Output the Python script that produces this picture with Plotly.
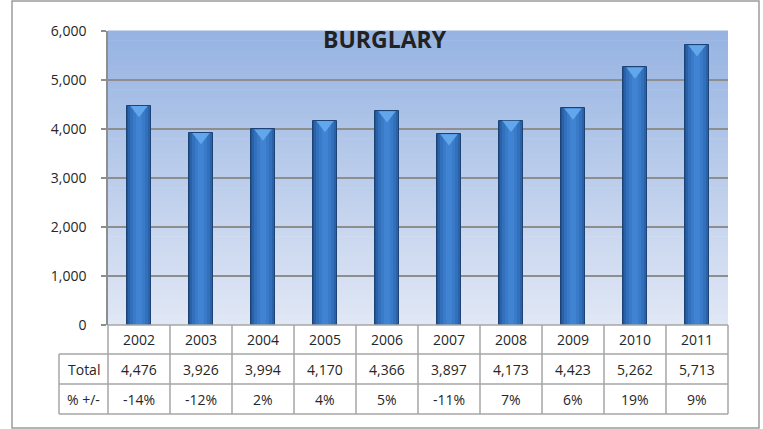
import plotly.graph_objects as go

# ---- data ----
years = ["2002", "2003", "2004", "2005", "2006", "2007", "2008", "2009", "2010", "2011"]
totals = [4476, 3926, 3994, 4170, 4366, 3897, 4173, 4423, 5262, 5713]
pct_change = ["-14%", "-12%", "2%", "4%", "5%", "-11%", "7%", "6%", "19%", "9%"]
y_ticks = [0, 1000, 2000, 3000, 4000, 5000, 6000]
row_labels = ["Total", "% +/-"]
title_text = "BURGLARY"

# ---- layout geometry (pixels) ----
W, H = 763, 429
L, R, T, B = 108, 35, 31, 104
PW, PH = W - L - R, H - T - B
FONT = "Open Sans"
TXT = "#262626"
GRID = "#8E8E8E"
TBL = "#A6A6A6"


def px(p):
    return (p - L) / PW


def py(p):
    return (H - B - p) / PH


xs = list(range(len(years)))
fig = go.Figure()

# gradient-shaded cylinder-like bars (overlayed narrower bars)
bar_layers = [(0.40, "#22538F"), (0.35, "#2A62A9"), (0.28, "#3270BC"), (0.19, "#397BC9"), (0.09, "#3F83D2")]
for i, (w, c) in enumerate(bar_layers):
    fig.add_trace(go.Bar(
        x=xs, y=totals, width=w,
        marker=dict(color=c, line=dict(color="#1D4274" if i == 0 else c, width=1 if i == 0 else 0)),
        hoverinfo="skip", showlegend=False,
    ))

# bevel highlight at top of each bar
unit_per_px = (y_ticks[-1] - y_ticks[0]) / PH
fig.add_trace(go.Scatter(
    x=xs, y=[v - 4 * unit_per_px for v in totals], mode="markers",
    marker=dict(symbol="triangle-down", size=15, color="#62A6EC", line=dict(width=0)),
    hoverinfo="skip", showlegend=False, cliponaxis=False,
))

shapes = []
# plot background gradient
N = 60
top_c = (150, 179, 226)
bot_c = (224, 231, 245)
for k in range(N):
    f = k / (N - 1)
    c = tuple(int(round(top_c[j] + (bot_c[j] - top_c[j]) * f)) for j in range(3))
    shapes.append(dict(type="rect", xref="paper", yref="paper", x0=0, x1=1,
                       y0=1 - (k + 1) / N, y1=1 - k / N + 0.002, layer="below",
                       fillcolor="rgb(%d,%d,%d)" % c, line=dict(width=0)))

# outer chart border
shapes.append(dict(type="rect", xref="paper", yref="paper", x0=px(12), x1=px(759),
                   y0=py(428), y1=py(1), line=dict(color="#9C9C9C", width=1.5), layer="above"))

# data table grid
row_y = [325, 354, 384, 414]
lab_x0 = 59
col_w = PW / len(years)
for i, yy in enumerate(row_y):
    x0 = L if i == 0 else lab_x0
    shapes.append(dict(type="line", xref="paper", yref="paper", x0=px(x0), x1=px(L + PW),
                       y0=py(yy), y1=py(yy), line=dict(color=TBL, width=1.5)))
for k in range(len(years) + 1):
    xx = L + k * col_w
    shapes.append(dict(type="line", xref="paper", yref="paper", x0=px(xx), x1=px(xx),
                       y0=py(row_y[0]), y1=py(row_y[-1]), line=dict(color=TBL, width=1.5)))
shapes.append(dict(type="line", xref="paper", yref="paper", x0=px(lab_x0), x1=px(lab_x0),
                   y0=py(row_y[1]), y1=py(row_y[-1]), line=dict(color=TBL, width=1.5)))

annotations = []
rows = [years, ["{:,}".format(v) for v in totals], pct_change]
for r, vals in enumerate(rows):
    ymid = py((row_y[r] + row_y[r + 1]) / 2)
    for k, v in enumerate(vals):
        annotations.append(dict(x=k, xref="x", y=ymid, yref="paper", text=v, showarrow=False,
                                xanchor="center", yanchor="middle", font=dict(family=FONT, size=14, color=TXT)))
for r, lab in enumerate(row_labels):
    ymid = py((row_y[r + 1] + row_y[r + 2]) / 2)
    annotations.append(dict(x=px((lab_x0 + L) / 2), xref="paper", y=ymid, yref="paper", text=lab,
                            showarrow=False, xanchor="center", yanchor="middle",
                            font=dict(family=FONT, size=14, color=TXT)))

annotations.append(dict(x=px(385), xref="paper", y=py(39), yref="paper", text="<b>%s</b>" % title_text,
                        showarrow=False, xanchor="center", yanchor="middle",
                        font=dict(family=FONT, size=23, color="#222222")))

fig.update_layout(
    width=W, height=H,
    margin=dict(l=L, r=R, t=T, b=B, pad=0),
    paper_bgcolor="white", plot_bgcolor="rgba(0,0,0,0)",
    barmode="overlay", bargap=0,
    showlegend=False,
    shapes=shapes, annotations=annotations,
    font=dict(family=FONT, size=14, color=TXT),
)
fig.update_xaxes(range=[-0.5, len(years) - 0.5], showticklabels=False, showgrid=False,
                 zeroline=False, showline=False, ticks="")
fig.update_yaxes(range=[y_ticks[0], y_ticks[-1]], tickvals=y_ticks, tickformat=",",
                 showgrid=True, gridcolor=GRID, gridwidth=1.5, zeroline=False,
                 showline=True, linecolor=GRID, linewidth=1.5, ticks="outside", ticklen=5,
                 tickcolor=GRID, tickwidth=1.5, ticklabelstandoff=12,
                 tickfont=dict(family=FONT, size=14, color=TXT))

fig.write_html("out.html", config={"displayModeBar": False},
               post_script="document.body.style.margin='0';document.body.style.overflow='hidden';")
